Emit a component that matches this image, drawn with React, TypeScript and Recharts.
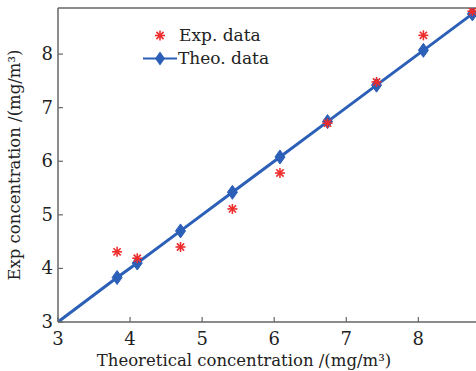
import React from 'react';
import {
  ComposedChart,
  Line,
  Scatter,
  XAxis,
  YAxis,
  ReferenceLine,
} from 'recharts';

const theoX = [3, 3.82, 4.1, 4.7, 5.42, 6.08, 6.74, 7.42, 8.07, 8.75];
const theoY = [3, 3.83, 4.1, 4.7, 5.42, 6.08, 6.74, 7.42, 8.07, 8.75];
const expX = [3.82, 4.1, 4.7, 5.42, 6.08, 6.74, 7.42, 8.07, 8.75];
const expY = [4.31, 4.19, 4.4, 5.11, 5.78, 6.71, 7.48, 8.35, 8.8];
const xTicks = [3, 4, 5, 6, 7, 8];
const yTicks = [3, 4, 5, 6, 7, 8];

const X_MIN = 3;
const X_MAX = 8.8;
const Y_MIN = 3;
const Y_MAX = 8.86;

const FONT = '"DejaVu Serif", serif';
const BLUE = '#2b5fb8';
const RED = '#ee2c2c';
const AXIS = '#666';

const theoData = theoX.map((x, i) => ({ x, y: theoY[i], marker: i > 0 }));
const expData = expX.map((x, i) => ({ x, y: expY[i] }));

const Asterisk = ({ cx, cy }: any) => {
  const r = 5;
  const d = r * 0.72;
  return (
    <g stroke={RED} strokeWidth={1.6}>
      <line x1={cx - r} y1={cy} x2={cx + r} y2={cy} />
      <line x1={cx} y1={cy - r} x2={cx} y2={cy + r} />
      <line x1={cx - d} y1={cy - d} x2={cx + d} y2={cy + d} />
      <line x1={cx - d} y1={cy + d} x2={cx + d} y2={cy - d} />
    </g>
  );
};

const Diamond = ({ cx, cy, payload }: any) => {
  if (!payload || !payload.marker) return null;
  return (
    <path
      d={`M${cx},${cy - 7} L${cx + 5},${cy} L${cx},${cy + 7} L${cx - 5},${cy} Z`}
      fill={BLUE}
      stroke={BLUE}
      strokeWidth={1}
    />
  );
};

const XTick = ({ x, y, payload }: any) => (
  <g>
    <line x1={x} y1={y} x2={x} y2={y - 5} stroke={AXIS} strokeWidth={1.2} />
    <text x={x} y={y + 23} textAnchor="middle" fontFamily={FONT} fontSize={18} fill="#222">
      {payload.value}
    </text>
  </g>
);

const YTick = ({ x, y, payload }: any) => (
  <g>
    <line x1={x} y1={y} x2={x + 5} y2={y} stroke={AXIS} strokeWidth={1.2} />
    <text x={x - 5} y={y + 6} textAnchor="end" fontFamily={FONT} fontSize={18} fill="#222">
      {payload.value}
    </text>
  </g>
);

const XTitle = () => (
  <text x={244} y={366} textAnchor="middle" fontFamily={FONT} fontSize={16.5} fill="#222">
    Theoretical concentration /(mg/m³)
  </text>
);

const LegendBox = () => (
  <div
    style={{
      position: 'absolute',
      left: 143,
      top: 24,
      fontFamily: FONT,
      fontSize: 17,
      color: '#222',
      lineHeight: '23px',
    }}
  >
    <div style={{ display: 'flex', alignItems: 'center' }}>
      <svg width={34} height={23}>
        <Asterisk cx={17} cy={11.5} />
      </svg>
      <span style={{ marginLeft: 2 }}>Exp. data</span>
    </div>
    <div style={{ display: 'flex', alignItems: 'center' }}>
      <svg width={34} height={23}>
        <line x1={0} y1={11.5} x2={34} y2={11.5} stroke={BLUE} strokeWidth={2} />
        <path d="M17,4.5 L22,11.5 L17,18.5 L12,11.5 Z" fill={BLUE} />
      </svg>
      <span style={{ marginLeft: 1 }}>Theo. data</span>
    </div>
  </div>
);

export default function App() {
  return (
    <div style={{ position: 'absolute', left: 0, top: 0, width: 476, height: 371, background: '#fff' }}>
      <ComposedChart
        width={476}
        height={371}
        margin={{ top: 8, right: 0, bottom: 0, left: 0 }}
      >
        <XAxis
          dataKey="x"
          type="number"
          domain={[X_MIN, X_MAX]}
          ticks={xTicks}
          allowDataOverflow
          height={49}
          tickSize={0}
          tickMargin={0}
          tick={<XTick />}
          stroke={AXIS}
          strokeWidth={1.5}
          label={<XTitle />}
        />
        <YAxis
          dataKey="y"
          type="number"
          domain={[Y_MIN, Y_MAX]}
          ticks={yTicks}
          allowDataOverflow
          width={58}
          tickSize={0}
          tickMargin={0}
          tick={<YTick />}
          stroke={AXIS}
          strokeWidth={1.5}
          label={{
            value: 'Exp concentration /(mg/m³)',
            angle: -90,
            position: 'insideLeft',
            offset: 14,
            style: { fontFamily: FONT, fontSize: 16.5, fill: '#222', textAnchor: 'middle' },
          }}
        />
        <ReferenceLine y={Y_MAX} stroke={AXIS} strokeWidth={1.5} />
        <Line
          data={theoData}
          dataKey="y"
          stroke={BLUE}
          strokeWidth={3}
          dot={<Diamond />}
          activeDot={false}
          isAnimationActive={false}
          legendType="none"
        />
        <Scatter
          data={expData}
          dataKey="y"
          shape={<Asterisk />}
          isAnimationActive={false}
          legendType="none"
        />
      </ComposedChart>
      <LegendBox />
    </div>
  );
}
